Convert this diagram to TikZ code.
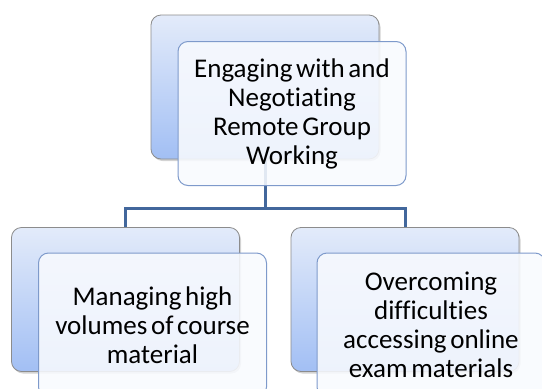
\documentclass[tikz,border=0pt]{standalone}
\usepackage{fontspec}
\setmainfont[Ligatures=NoCommon,WordSpace=0.6]{Carlito}
\usetikzlibrary{shadows}
\definecolor{backtop}{HTML}{E3EBFA}
\definecolor{backbot}{HTML}{A2BFF4}
\definecolor{backline}{HTML}{8C8C8C}
\definecolor{frontline}{HTML}{7E9ACB}
\definecolor{frontfill}{HTML}{F8FAFE}
\definecolor{conn}{HTML}{42679C}
\begin{document}
\begin{tikzpicture}[x=1pt,y=-1pt,
 backbox/.style={draw=backline, line width=0.8pt, rounded corners=10pt, top color=backtop, bottom color=backbot,
   minimum width=228pt, minimum height=144pt, inner sep=0pt,
   drop shadow={shadow xshift=1.5pt, shadow yshift=-2pt, opacity=0.35}},
 frontbox/.style={draw=frontline, line width=1pt, rounded corners=10pt, fill=frontfill, fill opacity=0.88, text opacity=1,
   minimum width=228pt, minimum height=144pt, inner sep=0pt, align=center, font=\fontsize{27}{29}\selectfont},
 connector/.style={draw=conn, line width=3pt}]
\useasboundingbox (0,0) rectangle (542,389);
\clip (0,0) rectangle (542,389);
\node[backbox] (topback) at (265,87) {};
\node[backbox] (leftback) at (125.5,299.5) {};
\node[backbox] (rightback) at (405,299.5) {};
\coordinate (j) at (265,208);
\draw[connector] (topback.south) -- (j);
\draw[connector] (leftback.north) |- (j);
\draw[connector] (rightback.north) |- (j);
\node[frontbox] (topfront) at (292,113.5) {Engaging with and\\Negotiating\\Remote Group\\Working};
\node[frontbox] (leftfront) at (152.5,325) {Managing high\\volumes of course\\material};
\node[frontbox] (rightfront) at (431,325) {Overcoming\\difficulties\\accessing online\\exam materials};
\end{tikzpicture}
\end{document}
